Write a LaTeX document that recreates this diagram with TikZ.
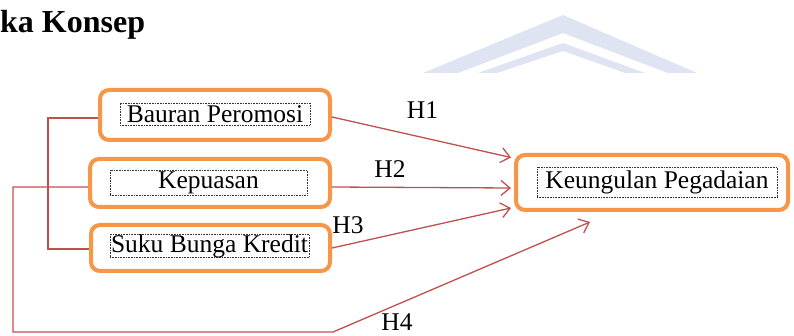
\documentclass[tikz,border=0pt]{standalone}
\usepackage{fontspec}
\setmainfont{Liberation Serif}
\usetikzlibrary{arrows.meta}
\definecolor{boxorange}{HTML}{F79646}
\definecolor{linkred}{HTML}{C0504D}
\definecolor{wmark}{HTML}{DFE4F3}
\tikzset{
  obox/.style={draw=boxorange, line width=4pt, rounded corners=9pt, fill=white, inner sep=0pt},
  tbox/.style={draw=black!80, densely dotted, line width=0.6pt, inner sep=0pt, font=\fontsize{25.5pt}{28pt}\selectfont},
  link/.style={draw=linkred, line width=1.3pt},
  larrow/.style={link, -{Straight Barb[length=9pt,width=15pt,line width=1.3pt]}},
  hlab/.style={inner sep=0pt, font=\fontsize{25.5pt}{28pt}\selectfont}
}
\begin{document}
\begin{tikzpicture}[x=1pt,y=-1pt]
\useasboundingbox (0,0) rectangle (794,336);
% watermark
\fill[wmark] (423,73) -- (563,15) -- (697,73) -- (668,73) -- (563,33) -- (458,73) -- cycle;
\fill[wmark] (478,73) -- (563,43) -- (645,73) -- (625,73) -- (563,51) -- (497,73) -- cycle;
% title
\node[anchor=base west, inner sep=0pt, font=\fontsize{32pt}{35pt}\selectfont\bfseries] (title) at (0,33) {ka Konsep};
% boxes
\node[obox, minimum width=230pt, minimum height=50pt] (b1) at (215,115) {};
\node[obox, minimum width=240pt, minimum height=48pt] (b2) at (210,183) {};
\node[obox, minimum width=239pt, minimum height=46pt] (b3) at (210.5,248) {};
\node[obox, minimum width=272pt, minimum height=55pt] (b4) at (652,182.5) {};
% text frames
\node[tbox, minimum width=190pt, minimum height=22pt] (t1) at (215,114) {Bauran Peromosi};
\node[tbox, minimum width=197pt, minimum height=25pt] (t2) at (208.5,182.5) {Kepuasan};
\node[tbox, minimum width=199pt, minimum height=20pt] (t3) at (209.5,246) {Suku Bunga Kredit};
\node[tbox, minimum width=240pt, minimum height=30pt] (t4) at (657,182) {Keungulan Pegadaian};
% coordinates
\coordinate (c5) at (48,118);
\coordinate (c6) at (48,249);
\coordinate (c1) at (13,187);
\coordinate (c2) at (13,332);
\coordinate (c3) at (333,332);
\coordinate (c4) at (590,222);
% bracket lines
\draw[link] ([yshift=-3pt]b1.west) -- (c5) -- (c6) -- ([yshift=-1pt]b3.west);
\draw[larrow] ([yshift=-4pt]b2.west) -- (c1) -- (c2) -- (c3) -- (c4);
% arrows
\draw[larrow] ([yshift=-2pt]b1.east) -- ([shift={(-3pt,25pt)}]b4.west);
\draw[larrow] ([yshift=-4pt]b2.east) -- ([shift={(-3pt,-5.5pt)}]b4.west);
\draw[larrow] (b3.east) -- ([shift={(-3pt,-25.5pt)}]b4.west);
% labels
\node[hlab] (h1) at (422.5,110) {H1};
\node[hlab] (h2) at (390,169.5) {H2};
\node[hlab] (h3) at (348,225.5) {H3};
\node[hlab] (h4) at (397,322) {H4};
\end{tikzpicture}
\end{document}
